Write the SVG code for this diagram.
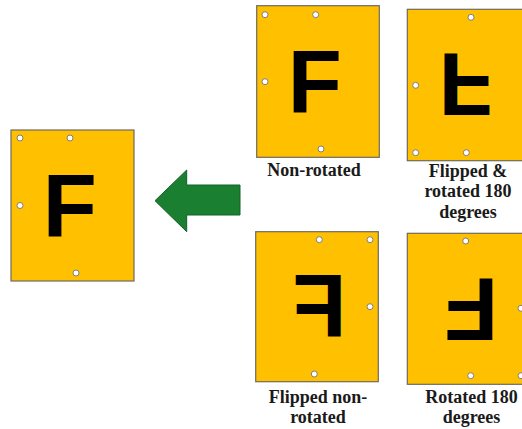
<svg xmlns="http://www.w3.org/2000/svg" xmlns:xlink="http://www.w3.org/1999/xlink" width="522" height="429" viewBox="0 0 522 429">
  <style>
    .sign { fill: #FFC000; stroke: #6e6a5e; stroke-width: 1.2; }
    .hole { fill: #ffffff; stroke: #7f7f7f; stroke-width: 1; }
    .letter { font-family: "Liberation Sans", Arial, sans-serif; font-weight: bold; font-size: 88.5px; fill: #000000; }
    .label { font-family: "Liberation Serif", "Times New Roman", serif; font-weight: bold; font-size: 18px; fill: #1a1a1a; text-anchor: middle; }
    .arrow { fill: #1a7f31; stroke: #15612a; stroke-width: 1; }
  </style>
  <defs>
    <!-- big F with stem's left edge at x=0 and baseline at y=0 -->
    <text id="glyphF" class="letter" x="-6.5" y="0">F</text>
  </defs>

  <rect width="522" height="429" fill="#ffffff"/>

  <!-- sign as mounted -->
  <g id="sign-mounted">
    <rect class="sign" x="11" y="130" width="123" height="151"/>
    <circle class="hole" cx="20" cy="138" r="3"/>
    <circle class="hole" cx="70" cy="138" r="3"/>
    <circle class="hole" cx="20" cy="205.5" r="3"/>
    <circle class="hole" cx="76" cy="273" r="3"/>
    <use xlink:href="#glyphF" href="#glyphF" transform="translate(49.3,236.7)"/>
  </g>

  <!-- non-rotated -->
  <g id="sign-non-rotated">
    <rect class="sign" x="256.7" y="5.7" width="122.6" height="151.6"/>
    <circle class="hole" cx="265" cy="14.7" r="3"/>
    <circle class="hole" cx="315.7" cy="14.7" r="3"/>
    <circle class="hole" cx="265" cy="81.7" r="3"/>
    <circle class="hole" cx="321" cy="149" r="3"/>
    <use xlink:href="#glyphF" href="#glyphF" transform="translate(294.3,112.7)"/>
    <text class="label" x="314" y="176">Non-rotated</text>
  </g>

  <!-- flipped and rotated 180 degrees -->
  <g id="sign-flipped-rotated">
    <rect class="sign" x="407.3" y="9.3" width="122" height="151.4"/>
    <circle class="hole" cx="471" cy="17.3" r="3"/>
    <circle class="hole" cx="415.7" cy="85.3" r="3"/>
    <circle class="hole" cx="415.7" cy="152.7" r="3"/>
    <circle class="hole" cx="466.3" cy="152.7" r="3"/>
    <use xlink:href="#glyphF" href="#glyphF" transform="translate(445,53.3) scale(1,-1)"/>
    <text class="label" x="468" y="176.7">Flipped &amp;</text>
    <text class="label" x="468" y="197.3">rotated 180</text>
    <text class="label" x="468" y="218">degrees</text>
  </g>

  <!-- flipped, non-rotated -->
  <g id="sign-flipped">
    <rect class="sign" x="255.7" y="231.7" width="122.6" height="150"/>
    <circle class="hole" cx="319.3" cy="239.7" r="3"/>
    <circle class="hole" cx="370" cy="239.7" r="3"/>
    <circle class="hole" cx="370" cy="306.7" r="3"/>
    <circle class="hole" cx="314.3" cy="374" r="3"/>
    <use xlink:href="#glyphF" href="#glyphF" transform="translate(340,337.3) scale(-1,1)"/>
    <text class="label" x="318" y="402.5">Flipped non-</text>
    <text class="label" x="318" y="422.5">rotated</text>
  </g>

  <!-- rotated 180 degrees -->
  <g id="sign-rotated">
    <rect class="sign" x="407.3" y="233.3" width="122" height="151"/>
    <circle class="hole" cx="465.7" cy="241" r="3"/>
    <circle class="hole" cx="521" cy="308.3" r="3"/>
    <circle class="hole" cx="470.7" cy="375.7" r="3"/>
    <circle class="hole" cx="521" cy="375.7" r="3"/>
    <use xlink:href="#glyphF" href="#glyphF" transform="translate(491.7,277.7) scale(-1,-1)"/>
    <text class="label" x="471.5" y="402.5">Rotated 180</text>
    <text class="label" x="471.5" y="422.5">degrees</text>
  </g>

  <!-- block arrow pointing to the mounted sign -->
  <g id="connectors">
    <polygon class="arrow" points="155,200.7 186.7,170 186.7,185 240,185 240,215 186.7,215 186.7,231.7"/>
  </g>
</svg>
